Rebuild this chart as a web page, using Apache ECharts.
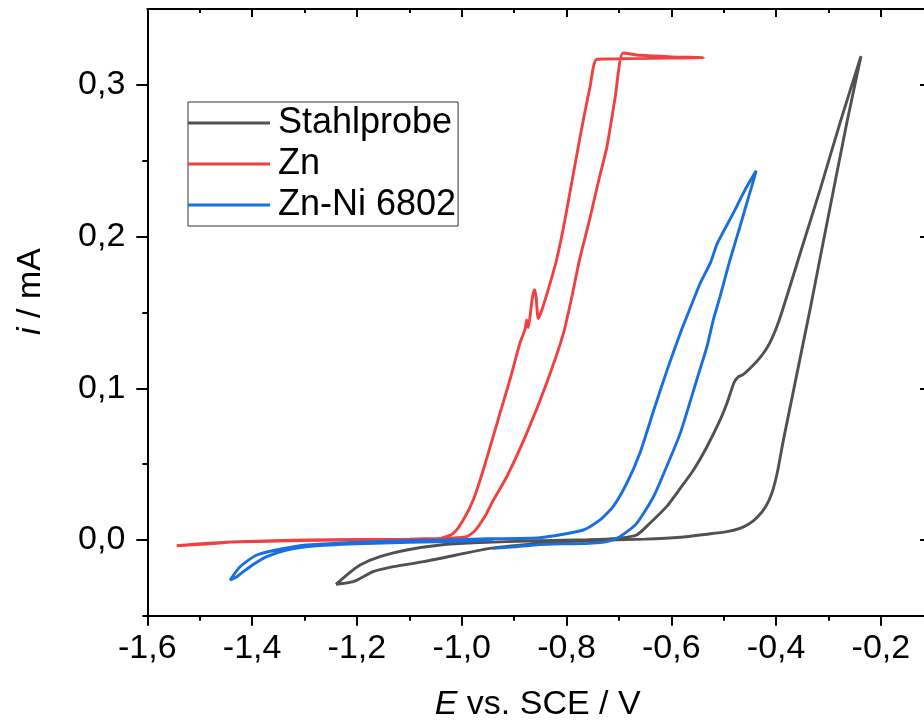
<!DOCTYPE html>
<html>
<head>
<meta charset="utf-8">
<script src="https://cdn.jsdelivr.net/npm/echarts@6/dist/echarts.min.js"></script>
<style>
  html, body { margin: 0; padding: 0; background: #fff; }
  #chart { width: 924px; height: 722px; }
</style>
</head>
<body>
<div id="chart"></div>
<script>
// Cyclic voltammograms: potential E (V vs. SCE) and current i (mA), in scan order.
const seriesNames = ['Stahlprobe', 'Zn', 'Zn-Ni 6802'];
const seriesColors = ['#515151', '#F14040', '#1A6FDF'];

const stahlE = [-1.240, -1.2195, -1.194, -1.156, -1.105, -1.041, -0.978, -0.851, -0.760, -0.704,
  -0.666, -0.641, -0.609, -0.583, -0.558, -0.532, -0.507, -0.494, -0.480, -0.472, -0.463, -0.450,
  -0.431, -0.412, -0.393, -0.354, -0.316, -0.278, -0.238,
  -0.265, -0.312, -0.334, -0.386, -0.398, -0.408, -0.420, -0.436, -0.452, -0.469, -0.494, -0.532,
  -0.583, -0.650, -0.760, -0.851, -0.946, -1.010, -1.073, -1.1305, -1.169, -1.207, -1.240];
const stahlI = [-0.0292, -0.0231, -0.0165, -0.0110, -0.0066, -0.0033, -0.0018, -0.0005, 0.0002, 0.0011,
  0.0033, 0.0110, 0.0220, 0.0340, 0.0460, 0.0615, 0.0790, 0.0900, 0.1040, 0.1075, 0.1090, 0.1130,
  0.1200, 0.1300, 0.1460, 0.1890, 0.2310, 0.2750, 0.3190,
  0.2750, 0.1930, 0.1540, 0.0660, 0.0440, 0.0310, 0.0220, 0.0150, 0.0105, 0.0077, 0.0055, 0.0038,
  0.0018, 0.0006, -0.0005, -0.0022, -0.0055, -0.0099, -0.0143, -0.0176, -0.0209, -0.0275, -0.0292];

const znE = [-1.544, -1.487, -1.423, -1.296, -1.100, -1.041, -1.010, -0.9905, -0.975, -0.955, -0.940,
  -0.914, -0.876, -0.838, -0.806, -0.790, -0.775, -0.756, -0.740, -0.723, -0.707, -0.692,
  -0.660, -0.600, -0.539, -0.600, -0.680, -0.742,
  -0.755, -0.774, -0.803, -0.819, -0.8315, -0.847, -0.854, -0.858, -0.861, -0.865, -0.870, -0.873,
  -0.876, -0.879, -0.889, -0.908, -0.927, -0.959, -0.978, -0.997, -1.016, -1.041, -1.100, -1.300,
  -1.450, -1.544];
const znI = [-0.0038, -0.0026, -0.0011, 0.0000, 0.0006, 0.0011, 0.0015, 0.0022, 0.0060, 0.0160, 0.0260,
  0.0417, 0.0703, 0.1033, 0.1360, 0.1600, 0.1850, 0.2110, 0.2350, 0.2590, 0.2920, 0.3210,
  0.3195, 0.3185, 0.3180, 0.3177, 0.3173, 0.3169,
  0.2988, 0.2658, 0.2110, 0.1846, 0.1690, 0.1516, 0.1460, 0.1600, 0.1650, 0.1600, 0.1460, 0.1400,
  0.1450, 0.1390, 0.1297, 0.1055, 0.0835, 0.0460, 0.0264, 0.0132, 0.0044, 0.0011, 0.0004, -0.0003,
  -0.0015, -0.0038];

const znniE = [-0.940, -0.900, -0.851, -0.800, -0.755, -0.723, -0.698, -0.666, -0.634, -0.609, -0.583,
  -0.5515, -0.532, -0.520, -0.507, -0.488, -0.469, -0.456, -0.4466, -0.438,
  -0.456, -0.466, -0.475, -0.484, -0.501, -0.513, -0.525, -0.545, -0.558, -0.583, -0.609, -0.634,
  -0.660, -0.685, -0.711, -0.736, -0.768, -0.851, -0.950, -1.041, -1.169, -1.296, -1.347, -1.391,
  -1.423, -1.442, -1.429, -1.404, -1.372, -1.334, -1.283, -1.200, -1.100, -1.000, -0.940];
const znniI = [-0.0055, -0.0045, -0.0030, -0.0025, -0.0022, -0.0011, 0.0022, 0.0110, 0.0285, 0.0483, 0.0703,
  0.1055, 0.1274, 0.1450, 0.1604, 0.1846, 0.2065, 0.2220, 0.2329, 0.2434,
  0.2329, 0.2263, 0.2200, 0.2140, 0.2030, 0.1950, 0.1830, 0.1692, 0.1580, 0.1362, 0.1110, 0.0850,
  0.0572, 0.0374, 0.0220, 0.0132, 0.0066, 0.0015, 0.0008, 0.0000, -0.0011, -0.0033, -0.0061, -0.0099,
  -0.0176, -0.0264, -0.0242, -0.0176, -0.0110, -0.0066, -0.0040, -0.0025, -0.0015, -0.0008, 0.0000];

// Axis tick positions and labels
const xMajorTicks = [-1.6, -1.4, -1.2, -1.0, -0.8, -0.6, -0.4, -0.2];
const xMinorTicks = [-1.5, -1.3, -1.1, -0.9, -0.7, -0.5, -0.3];
const yMajorTicks = [0.0, 0.1, 0.2, 0.3];
const yMinorTicks = [-0.05, 0.05, 0.15, 0.25];
const xRange = [-1.6, -0.11];
const yRange = [-0.05, 0.35];

const FONT = '"Liberation Sans", Arial, sans-serif';
const FS = 34;
const commaDecimal = v => Number(v).toFixed(1).replace('.', ',');
const zip = (xs, ys) => xs.map((x, i) => [x, ys[i]]);

const black = { color: '#000', width: 2 };

function xAxisDef(position, ticks, len, inside, withLine, labels) {
  return {
    type: 'value', position, min: xRange[0], max: xRange[1],
    axisLine: { show: withLine, onZero: false, lineStyle: black },
    axisTick: { show: true, inside, length: len, customValues: ticks, lineStyle: black },
    axisLabel: labels ? {
      show: true, customValues: ticks, formatter: commaDecimal, margin: 16,
      fontSize: FS, fontFamily: FONT, color: '#000'
    } : { show: false },
    splitLine: { show: false }
  };
}
function yAxisDef(position, ticks, len, inside, withLine, labels) {
  return {
    type: 'value', position, min: yRange[0], max: yRange[1],
    axisLine: { show: withLine, onZero: false, lineStyle: black },
    axisTick: { show: true, inside, length: len, customValues: ticks, lineStyle: black },
    axisLabel: labels ? {
      show: true, customValues: ticks, formatter: commaDecimal, margin: 22,
      fontSize: FS, fontFamily: FONT, color: '#000'
    } : { show: false },
    splitLine: { show: false }
  };
}

const xBottom = xAxisDef('bottom', xMajorTicks, 10, false, true, true);
Object.assign(xBottom, {
  name: '{it|E} vs. SCE / V', nameLocation: 'middle', nameGap: 72,
  nameTextStyle: { fontSize: FS, fontFamily: FONT, color: '#000',
    rich: { it: { fontStyle: 'italic', fontSize: FS, fontFamily: FONT, color: '#000' } } }
});
const yLeft = yAxisDef('left', yMajorTicks, 11, false, true, true);
Object.assign(yLeft, {
  name: '{it|i} / mA', nameLocation: 'middle', nameGap: 100, nameRotate: 90,
  nameTextStyle: { fontSize: FS, fontFamily: FONT, color: '#000', padding: [0, 0, 0, 42],
    rich: { it: { fontStyle: 'italic', fontSize: FS, fontFamily: FONT, color: '#000' } } }
});

const chart = echarts.init(document.getElementById('chart'), null, { renderer: 'canvas' });
chart.setOption({
  animation: false,
  backgroundColor: '#fff',
  grid: { left: 147.3, top: 9.05, right: -4.06, bottom: 106.15, containLabel: false, outerBoundsMode: 'none' },
  xAxis: [
    xBottom,
    xAxisDef('bottom', xMinorTicks, 5, false, false, false),
    xAxisDef('top', xMajorTicks, 8, true, true, false),
    xAxisDef('top', xMinorTicks, 4, true, false, false)
  ],
  yAxis: [
    yLeft,
    yAxisDef('left', yMinorTicks, 5, false, false, false),
    yAxisDef('right', yMajorTicks, 8, true, true, false)
  ],
  legend: {
    orient: 'vertical', left: 188, top: 102,
    itemWidth: 82, itemHeight: 3, itemGap: 5, icon: 'rect',
    padding: [3, 2, 3, 0],
    borderColor: '#333', borderWidth: 1,
    textStyle: { fontSize: 36, fontFamily: FONT, color: '#000', padding: [0, 0, 0, 3] },
    data: seriesNames
  },
  series: [
    [stahlE, stahlI], [znE, znI], [znniE, znniI]
  ].map((pair, k) => ({
    name: seriesNames[k], type: 'line', xAxisIndex: 0, yAxisIndex: 0,
    data: zip(pair[0], pair[1]),
    showSymbol: false, symbol: 'none', smooth: 0.2,
    lineStyle: { color: seriesColors[k], width: 2.9 },
    itemStyle: { color: seriesColors[k] }
  }))
});
</script>
</body>
</html>
